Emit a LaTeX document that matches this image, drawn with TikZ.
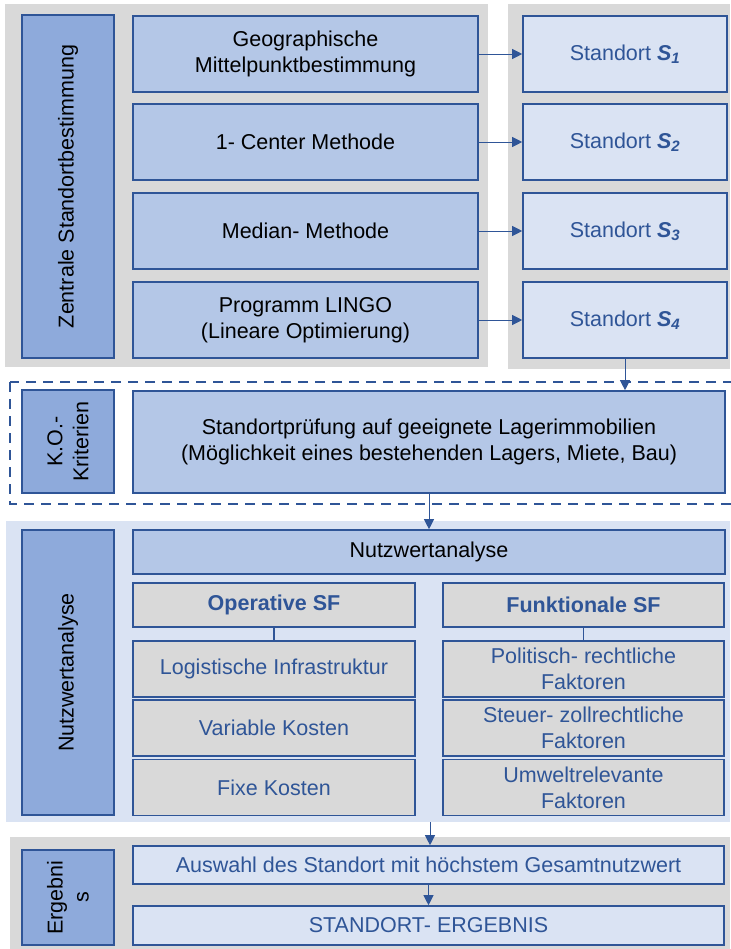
\documentclass[tikz,border=0pt]{standalone}
\usepackage{fontspec}
\setmainfont{Liberation Sans}
\usepackage{tikz}
\usetikzlibrary{arrows,arrows.meta}

\definecolor{rand}{HTML}{2F5597}
\definecolor{grau}{HTML}{D9D9D9}
\definecolor{dunkelblau}{HTML}{8EAADB}
\definecolor{mittelblau}{HTML}{B4C7E7}
\definecolor{hellblau}{HTML}{DAE3F3}

\tikzset{
 kasten/.style={draw=rand, line width=1.6pt, align=center, inner sep=2pt, font=\fontsize{21.5}{26}\selectfont},
 seite/.style={kasten, fill=dunkelblau, rotate=90},
 methode/.style={kasten, fill=mittelblau},
 ort/.style={kasten, fill=hellblau, text=rand},
 faktor/.style={kasten, fill=grau, text=rand},
 pfeil/.style={draw=rand, line width=0.9pt, -{Triangle[length=10pt,width=10pt]}},
 linie/.style={draw=rand, line width=1.6pt}
}

\begin{document}
\begin{tikzpicture}[x=1pt,y=-1pt]
\useasboundingbox (0,0) rectangle (730,949);

% hintergruende
\fill[grau] (5,4) rectangle (488,367);
\fill[grau] (508,4) rectangle (730,369);
\fill[hellblau] (6,521) rectangle (730,822);
\fill[grau] (10,837) rectangle (730,949);
\draw[rand, line width=2.2pt, dash pattern=on 10pt off 7pt] (10,382) rectangle (734,504);

% linke spalte
\node[seite, minimum width=343pt, minimum height=92pt] (zsb) at (68,186.5) {Zentrale Standortbestimmung};
\node[seite, minimum width=103pt, minimum height=92pt] (ko) at (68,441.5) {K.O.-\\Kriterien};
\node[seite, minimum width=285pt, minimum height=92pt] (nwa) at (68,672.5) {Nutzwertanalyse};
\node[seite, minimum width=95pt, minimum height=92pt] (erg) at (68,897.5) {Ergebni\\s};

% methoden
\node[methode, minimum width=345pt, minimum height=76pt] (geo) at (305.5,54) {Geographische\\Mittelpunktbestimmung};
\node[methode, minimum width=345pt, minimum height=76pt] (center) at (305.5,142) {1- Center Methode};
\node[methode, minimum width=345pt, minimum height=76pt] (median) at (305.5,231) {Median- Methode};
\node[methode, minimum width=345pt, minimum height=76pt] (lingo) at (305.5,320) {Programm LINGO\\(Lineare Optimierung)};

% standorte
\foreach \n/\y in {1/54,2/142,3/231,4/320}
{
\node[ort, minimum width=204pt, minimum height=76pt] (s\n) at (625,\y) {Standort \textbf{\textit{S\textsubscript{\n}}}};
}

\draw[pfeil] (geo.east) -- (s1.west);
\draw[pfeil] (center.east) -- (s2.west);
\draw[pfeil] (median.east) -- (s3.west);
\draw[pfeil] (lingo.east) -- (s4.west);

% k.o.
\node[methode, minimum width=592pt, minimum height=102pt] (pruef) at (429,442) {Standortprüfung auf geeignete Lagerimmobilien\\(Möglichkeit eines bestehenden Lagers, Miete, Bau)};
\draw[pfeil] (s4.south) -- (s4.south |- pruef.north);

% nutzwertanalyse
\node[methode, minimum width=592pt, minimum height=44pt] (nwkopf) at (429,552) {Nutzwertanalyse};
\draw[pfeil] (pruef.south) -- (nwkopf.north);

\node[faktor, minimum width=282pt, minimum height=44pt, font=\fontsize{21.5}{26}\selectfont\bfseries] (op) at (274,605) {Operative SF};
\node[faktor, minimum width=282pt, minimum height=56pt] (log) at (274,669) {Logistische Infrastruktur};
\node[faktor, minimum width=282pt, minimum height=56pt] (var) at (274,728) {Variable Kosten};
\node[faktor, minimum width=282pt, minimum height=56pt] (fix) at (274,787.5) {Fixe Kosten};

\node[faktor, minimum width=281pt, minimum height=44pt, font=\fontsize{21.5}{26}\selectfont\bfseries] (fkt) at (583.5,605) {Funktionale SF};
\node[faktor, minimum width=281pt, minimum height=56pt] (pol) at (583.5,669) {Politisch- rechtliche\\Faktoren};
\node[faktor, minimum width=281pt, minimum height=56pt] (st) at (583.5,728) {Steuer- zollrechtliche\\Faktoren};
\node[faktor, minimum width=281pt, minimum height=56pt] (umw) at (583.5,787.5) {Umweltrelevante\\Faktoren};

\draw[linie] (op.south) -- (log.north);
\draw[linie] (fkt.south) -- (pol.north);

% ergebnis
\coordinate (nwende) at (430,822);
\node[ort, minimum width=591pt, minimum height=38pt] (wahl) at (428.5,865) {Auswahl des Standort mit höchstem Gesamtnutzwert};
\node[ort, minimum width=591pt, minimum height=39pt] (ende) at (428.5,925.5) {STANDORT- ERGEBNIS};
\draw[pfeil] (nwende) -- (nwende |- wahl.north);
\draw[pfeil] (wahl.south) -- (ende.north);
\end{tikzpicture}
\end{document}
